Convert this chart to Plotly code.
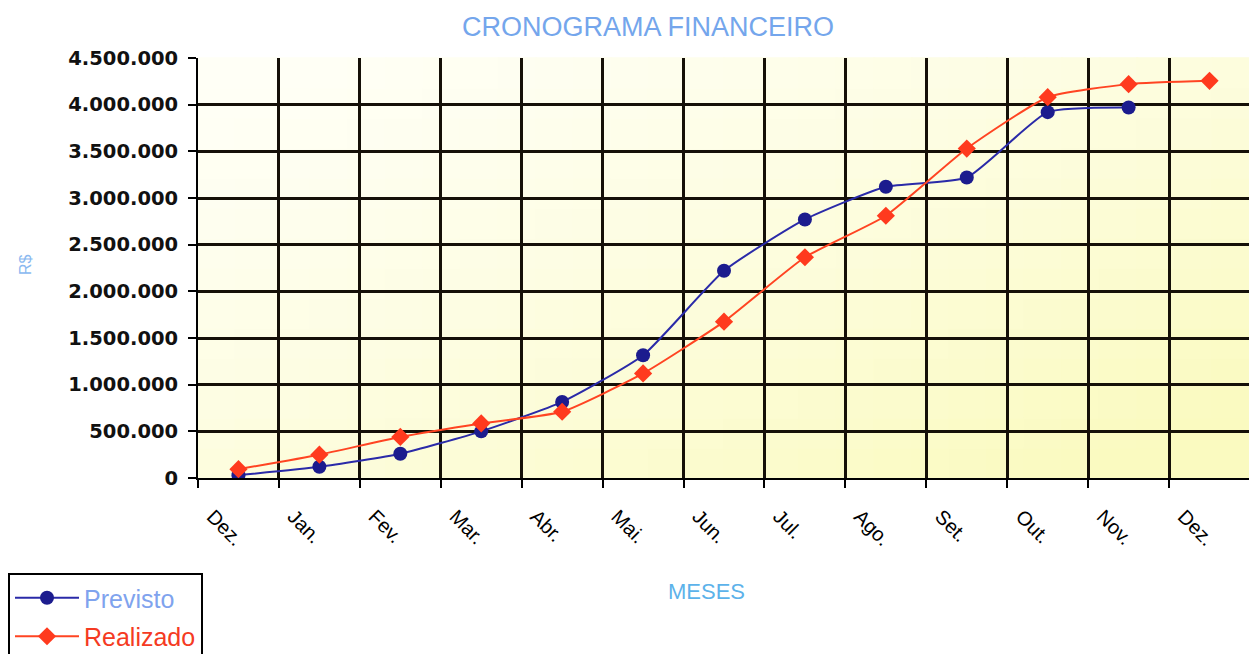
import plotly.graph_objects as go

meses = ["Dez.", "Jan.", "Fev.", "Mar.", "Abr.", "Mai.", "Jun.", "Jul.", "Ago.", "Set.", "Out.", "Nov.", "Dez."]
previsto = [30000, 120000, 260000, 500000, 815000, 1315000, 2220000, 2770000, 3120000, 3220000, 3920000, 3970000, None]
realizado = [95000, 250000, 440000, 585000, 710000, 1120000, 1675000, 2365000, 2810000, 3530000, 4080000, 4220000, 4255000]
y_ticks = [0, 500000, 1000000, 1500000, 2000000, 2500000, 3000000, 3500000, 4000000, 4500000]

pos = list(range(len(meses)))
bounds = [p - 0.5 for p in pos] + [pos[-1] + 0.5]

# page body has an 8px margin: the figure is drawn offset by (8, 8)
OFF = 8
W, H = 1257 - OFF, 654
ML, MT = 198 - OFF, 58 - OFF
PR, PB = 1250 - OFF, 478 - OFF
PW, PH = PR - ML, PB - MT


def px(xw):
    return (xw - OFF - ML) / PW


def py(yw):
    return (PB - (yw - OFF)) / PH


fig = go.Figure()
fig.add_trace(go.Scatter(
    x=pos, y=previsto, mode="lines+markers",
    name="<span style='color:#7fa3ee'>Previsto</span>",
    legendgroup="a",
    line=dict(color="#2a2aa8", width=2, shape="spline", smoothing=0.5),
    marker=dict(symbol="circle", size=14, color="#1c1c8e"),
    connectgaps=False,
))
fig.add_trace(go.Scatter(
    x=pos, y=realizado, mode="lines+markers", xaxis="x2",
    name="<span style='color:#f53a22'>Realizado</span>",
    legendgroup="b",
    line=dict(color="#ff4422", width=2, shape="spline", smoothing=0.5),
    marker=dict(symbol="diamond", size=14, color="#ff3a1e"),
))

# subtle yellow gradient background (cells)
shapes = []
NC, NR = 28, 14
w0 = (255, 255, 247)
w1 = (250, 250, 192)
for i in range(NC):
    for j in range(NR):
        xn = (i + 0.5) / NC
        yn = (j + 0.5) / NR
        s = 0.55 * xn + 0.55 * (1 - yn)
        s = max(0.0, min(1.0, s)) ** 1.3
        c = tuple(round(w0[k] + (w1[k] - w0[k]) * s) for k in range(3))
        shapes.append(dict(
            type="rect", xref="paper", yref="paper",
            x0=i / NC - 0.001, x1=(i + 1) / NC + 0.001,
            y0=j / NR - 0.002, y1=(j + 1) / NR + 0.002,
            line=dict(width=0), fillcolor="rgb(%d,%d,%d)" % c, layer="below",
        ))

fig.update_layout(
    width=W, height=H,
    margin=dict(l=ML, r=W - PR, t=MT, b=H - PB, autoexpand=False),
    paper_bgcolor="white", plot_bgcolor="#fffff4",
    separators=",.",
    font=dict(family="Liberation Sans, Arial, sans-serif", color="black"),
    shapes=shapes,
    showlegend=True,
    legend=dict(
        x=px(8), y=py(573), xanchor="left", yanchor="top",
        bgcolor="white", bordercolor="black", borderwidth=2,
        font=dict(size=25, family="Liberation Sans, Arial, sans-serif"),
        itemwidth=64, tracegroupgap=3, traceorder="grouped",
    ),
    xaxis=dict(
        range=[-0.5, len(meses) - 0.5],
        tickmode="array", tickvals=bounds, ticktext=[""] * len(bounds),
        showgrid=True, gridcolor="#151008", gridwidth=2.5,
        showline=True, linecolor="black", linewidth=2,
        ticks="outside", ticklen=8, tickwidth=2, tickcolor="black",
        zeroline=False,
    ),
    xaxis2=dict(
        overlaying="x", anchor="y", side="bottom",
        range=[-0.5, len(meses) - 0.5],
        tickmode="array", tickvals=pos, ticktext=meses,
        tickangle=45, showgrid=False, showline=False, ticks="",
        ticklabelstandoff=22, ticklabelshift=-26,
        tickfont=dict(size=20, color="black", family="Liberation Sans, Arial, sans-serif"),
        zeroline=False,
    ),
    yaxis=dict(
        range=[0, 4500000], tickmode="array", tickvals=y_ticks,
        tickformat=",d",
        showgrid=True, gridcolor="#151008", gridwidth=2.5,
        showline=True, linecolor="black", linewidth=2,
        ticks="outside", ticklen=8, tickwidth=2, tickcolor="black",
        ticklabelstandoff=6,
        tickfont=dict(size=19.5, color="#111", family="DejaVu Sans, sans-serif", weight="bold"),
        zeroline=False,
    ),
    annotations=[
        dict(text="CRONOGRAMA FINANCEIRO", xref="paper", yref="paper",
             x=px(648), y=py(27), xanchor="center", yanchor="middle",
             showarrow=False, font=dict(size=27, color="#74a6ec")),
        dict(text="R$", xref="paper", yref="paper",
             x=px(25), y=py(265), xanchor="center", yanchor="middle",
             textangle=-90, showarrow=False, font=dict(size=16, color="#8ab9f0")),
        dict(text="MESES", xref="paper", yref="paper",
             x=px(706), y=py(591), xanchor="center", yanchor="middle",
             showarrow=False, font=dict(size=22, color="#5cb2ea")),
    ],
)

fig.write_html("out.html")
